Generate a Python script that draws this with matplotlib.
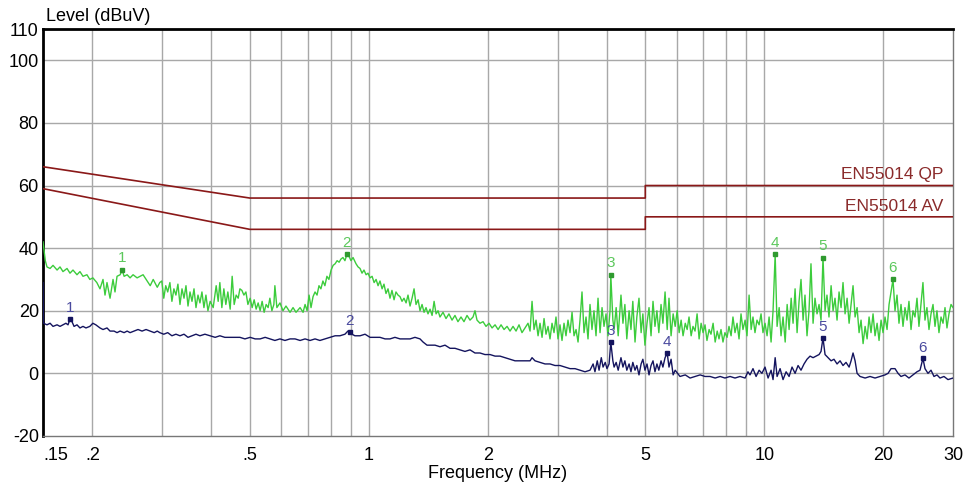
import matplotlib
matplotlib.use("Agg")
import matplotlib.pyplot as plt
import numpy as np

plt.rcParams['font.family'] = ['Liberation Sans', 'DejaVu Sans']
plt.rcParams['axes.unicode_minus'] = False

# limit lines (MHz, dBuV)
qp_limit_freq = [0.15, 0.5, 0.5, 5.0, 5.0, 30.0]
qp_limit_level = [66, 56, 56, 56, 60, 60]
av_limit_freq = [0.15, 0.5, 0.5, 5.0, 5.0, 30.0]
av_limit_level = [59, 46, 46, 46, 50, 50]

# quasi-peak trace (MHz, dBuV)
qp_points = [
    (0.150, 42), (0.1520, 36), (0.1535, 34), (0.1563, 33.5), (0.1590, 34.5), (0.1628, 33),
    (0.1656, 34), (0.1685, 32.5), (0.1725, 33.5), (0.1755, 32), (0.1786, 33), (0.1828, 31.5),
    (0.186, 32.5), (0.1893, 31), (0.1937, 31.5), (0.197, 30), (0.2005, 30.5), (0.2052, 29),
    (0.209, 27), (0.2127, 30), (0.2152, 25), (0.2177, 29), (0.2216, 24), (0.2255, 30),
    (0.2281, 26), (0.2308, 31), (0.235, 31.5), (0.2378, 33), (0.2405, 31), (0.2448, 31.5),
    (0.249, 30.5), (0.2534, 31.5), (0.2594, 30.5), (0.264, 31), (0.2686, 31.5), (0.275, 29.5),
    (0.280, 28), (0.2849, 30), (0.2917, 27.5), (0.296, 29), (0.2995, 29.5), (0.303, 24),
    (0.3065, 28), (0.310, 26), (0.314, 29), (0.3177, 23), (0.3214, 27), (0.3252, 25),
    (0.329, 28.5), (0.333, 22), (0.3369, 27), (0.3409, 24), (0.3448, 28), (0.3489, 21.5),
    (0.353, 26), (0.3571, 23), (0.3613, 27), (0.3655, 21), (0.3698, 25), (0.374, 22.5),
    (0.3784, 26), (0.3828, 21), (0.3873, 25), (0.3918, 20), (0.397, 23), (0.404, 21),
    (0.4111, 28), (0.4159, 23), (0.420, 29), (0.4249, 21), (0.4299, 27), (0.4349, 22),
    (0.440, 26), (0.446, 20.5), (0.4512, 31), (0.4565, 22), (0.4618, 25), (0.4673, 24),
    (0.472, 27), (0.4775, 26.5), (0.4831, 25), (0.4888, 26), (0.4945, 22), (0.501, 24),
    (0.5069, 21), (0.5128, 23.5), (0.5188, 20.5), (0.5249, 22.5), (0.531, 20), (0.5372, 23),
    (0.5435, 19.5), (0.5499, 22), (0.5563, 21), (0.562, 24), (0.5686, 20), (0.5752, 22),
    (0.5786, 28), (0.5854, 21), (0.596, 22.5), (0.6065, 20), (0.6172, 21.5), (0.632, 19.5),
    (0.6431, 21), (0.6544, 19.5), (0.670, 21), (0.6818, 19.5), (0.6898, 22), (0.6979, 20),
    (0.706, 25), (0.7141, 21), (0.7225, 24.5), (0.731, 26), (0.7396, 25), (0.748, 28),
    (0.7564, 27), (0.7653, 29.5), (0.7742, 28), (0.7833, 31), (0.7925, 30), (0.8027, 33),
    (0.8121, 34.5), (0.8216, 35), (0.8312, 36), (0.841, 35.5), (0.850, 36.5), (0.860, 37),
    (0.870, 36), (0.880, 38), (0.890, 37.5), (0.9012, 36), (0.912, 37), (0.928, 35),
    (0.939, 34), (0.950, 33.5), (0.961, 32), (0.972, 33), (0.984, 31.5), (0.995, 32),
    (1.007, 30.5), (1.019, 31), (1.031, 29), (1.043, 30), (1.055, 28), (1.067, 29.5),
    (1.080, 27), (1.092, 28.5), (1.105, 25.5), (1.118, 27), (1.131, 24), (1.144, 26.5),
    (1.158, 23.5), (1.171, 26), (1.185, 25), (1.199, 24.5), (1.213, 23), (1.227, 24),
    (1.242, 22.5), (1.256, 25), (1.271, 21.5), (1.286, 24), (1.301, 27), (1.316, 22),
    (1.332, 23.5), (1.347, 20), (1.363, 22), (1.379, 19.5), (1.395, 21), (1.411, 19),
    (1.428, 20.5), (1.445, 18.5), (1.462, 23), (1.479, 19), (1.496, 20), (1.513, 18),
    (1.540, 19.5), (1.567, 17.5), (1.594, 19), (1.623, 17), (1.651, 18.5), (1.680, 16.5),
    (1.710, 18), (1.740, 16.5), (1.771, 18.5), (1.802, 17), (1.834, 18), (1.855, 20),
    (1.877, 17), (1.910, 16), (1.944, 16.5), (1.978, 15), (2.013, 16), (2.049, 14.5),
    (2.085, 15.5), (2.122, 14), (2.159, 15.5), (2.197, 14), (2.236, 15), (2.275, 13.5),
    (2.315, 15), (2.356, 13.5), (2.397, 15.5), (2.439, 13), (2.482, 14.5), (2.526, 16),
    (2.556, 13.5), (2.586, 23), (2.616, 14), (2.647, 17), (2.678, 12), (2.709, 16),
    (2.741, 11.5), (2.773, 17.5), (2.805, 12.5), (2.838, 15), (2.871, 11), (2.905, 16),
    (2.939, 13), (2.973, 18), (3.008, 11), (3.043, 15.5), (3.079, 10.5), (3.115, 16),
    (3.151, 12), (3.188, 17), (3.226, 13), (3.264, 19.5), (3.302, 12), (3.341, 14),
    (3.380, 10), (3.419, 17), (3.459, 26), (3.500, 13), (3.541, 18), (3.582, 11),
    (3.624, 22), (3.666, 14), (3.709, 20), (3.753, 12), (3.797, 24), (3.842, 13),
    (3.887, 21), (3.932, 15), (3.978, 19), (4.025, 12), (4.072, 20), (4.09, 31.5),
    (4.14, 17), (4.17, 14), (4.22, 21), (4.27, 12), (4.34, 25), (4.39, 16),
    (4.44, 22), (4.49, 11), (4.55, 20), (4.60, 14), (4.65, 23), (4.71, 10),
    (4.76, 18), (4.82, 24), (4.88, 13), (4.93, 19), (4.99, 9), (5.05, 16),
    (5.11, 21), (5.17, 12), (5.23, 23), (5.29, 15), (5.35, 20), (5.41, 13),
    (5.48, 22), (5.54, 16), (5.61, 26), (5.68, 14), (5.74, 24), (5.81, 12),
    (5.88, 19), (5.95, 15), (6.02, 20), (6.09, 13), (6.16, 17), (6.23, 12),
    (6.31, 16), (6.38, 14), (6.45, 18), (6.53, 12), (6.60, 15), (6.68, 13.5),
    (6.76, 19), (6.84, 11), (6.92, 16), (7.00, 13), (7.08, 15.5), (7.16, 10.5),
    (7.25, 14), (7.33, 12.5), (7.42, 16), (7.51, 10), (7.60, 13.5), (7.68, 11),
    (7.77, 14), (7.86, 10), (7.95, 13), (8.05, 11.5), (8.14, 15), (8.24, 12),
    (8.33, 18), (8.43, 13), (8.53, 16), (8.63, 11), (8.73, 19), (8.83, 14),
    (8.94, 17), (9.04, 12), (9.15, 25), (9.26, 14), (9.36, 18), (9.47, 13),
    (9.58, 17), (9.70, 15.5), (9.81, 19), (9.92, 13), (10.04, 16), (10.16, 12),
    (10.28, 18), (10.40, 10), (10.52, 20), (10.65, 38), (10.77, 15), (10.90, 21),
    (11.02, 12), (11.15, 18), (11.29, 10), (11.42, 22), (11.55, 14), (11.69, 24),
    (11.82, 16), (11.96, 27), (12.10, 13), (12.24, 23), (12.38, 30), (12.53, 17),
    (12.67, 25), (12.82, 12), (12.97, 20), (13.12, 35), (13.28, 16), (13.43, 24),
    (13.59, 19), (13.75, 22), (13.91, 17), (14.07, 37), (14.24, 20), (14.40, 25),
    (14.57, 18), (14.75, 28), (14.92, 20), (15.09, 24), (15.27, 17), (15.45, 26),
    (15.63, 21), (15.81, 29), (16.00, 19), (16.19, 24), (16.38, 16), (16.57, 22),
    (16.76, 28), (16.96, 18), (17.16, 21), (17.36, 13), (17.56, 17), (17.77, 9.5),
    (17.98, 15), (18.19, 11), (18.40, 18), (18.61, 13), (18.83, 19), (19.05, 12),
    (19.28, 16), (19.50, 10.5), (19.73, 17), (19.96, 13), (20.19, 18), (20.43, 14),
    (20.67, 22), (20.91, 26), (21.15, 30), (21.40, 20), (21.65, 25), (21.90, 16),
    (22.16, 22), (22.42, 15), (22.68, 21), (22.95, 17), (23.21, 23), (23.49, 14),
    (23.76, 20), (24.04, 18), (24.32, 24), (24.60, 15), (24.89, 22), (25.18, 29),
    (25.48, 17), (25.77, 21), (26.08, 14), (26.39, 19), (26.70, 22), (27.01, 15),
    (27.32, 20), (27.64, 13), (27.97, 18), (28.30, 16), (28.63, 21), (28.96, 14.5),
    (29.30, 19), (29.65, 22), (30.0, 21),
]

# average trace (MHz, dBuV)
av_points = [
    (0.150, 29), (0.1504, 16), (0.1535, 15.5), (0.1563, 16), (0.159, 15), (0.1628, 15.5),
    (0.1656, 15), (0.1685, 15.5), (0.1714, 16), (0.1735, 15.5), (0.1755, 17.3), (0.1776, 16.5),
    (0.1797, 15), (0.1828, 15.5), (0.186, 14.5), (0.1893, 15), (0.1926, 14.5), (0.197, 15),
    (0.2005, 16), (0.204, 15.5), (0.209, 14.5), (0.2127, 14), (0.2177, 14.5), (0.2216, 13.5),
    (0.2268, 13.5), (0.2308, 13), (0.235, 13.5), (0.2405, 13), (0.2448, 13.5), (0.249, 13),
    (0.2549, 13.5), (0.2608, 14), (0.267, 13.5), (0.2733, 14), (0.280, 13.5), (0.2866, 13),
    (0.2917, 13.5), (0.296, 13), (0.303, 12.5), (0.310, 13), (0.3177, 12), (0.3252, 12.5),
    (0.333, 12), (0.3409, 12.5), (0.3489, 11.5), (0.3571, 12), (0.3655, 12.5), (0.374, 12),
    (0.385, 12.5), (0.397, 12), (0.4087, 11.5), (0.420, 12), (0.4324, 11.5), (0.446, 11.5),
    (0.459, 11.5), (0.472, 11.5), (0.486, 11), (0.501, 11.5), (0.5158, 11), (0.531, 11),
    (0.5467, 11.5), (0.562, 11), (0.5786, 10.5), (0.596, 11), (0.6136, 10.5), (0.632, 11),
    (0.6507, 11), (0.670, 10.5), (0.6898, 11), (0.710, 10.5), (0.731, 11), (0.752, 10.5),
    (0.7742, 11), (0.798, 11.5), (0.8216, 12), (0.845, 12), (0.870, 12.5), (0.885, 13.5),
    (0.896, 13.3), (0.9065, 12.5), (0.922, 12), (0.950, 12), (0.978, 12.5), (1.007, 11.5),
    (1.037, 11.5), (1.067, 11.5), (1.099, 11), (1.131, 11), (1.164, 11.5), (1.199, 11),
    (1.234, 11), (1.271, 11), (1.308, 11.5), (1.347, 11), (1.371, 10), (1.403, 9),
    (1.428, 9), (1.470, 9), (1.513, 8.5), (1.558, 9), (1.604, 8), (1.651, 8),
    (1.700, 7.5), (1.750, 7), (1.802, 7.5), (1.855, 6.5), (1.910, 6.5), (1.966, 6),
    (2.025, 6), (2.085, 5.5), (2.146, 5.5), (2.209, 5), (2.275, 4.5), (2.342, 4),
    (2.411, 4), (2.482, 4), (2.556, 4), (2.586, 5), (2.631, 4), (2.709, 3.5),
    (2.789, 3), (2.871, 3), (2.956, 2.5), (3.043, 2.5), (3.133, 2), (3.226, 1.5),
    (3.321, 1.5), (3.419, 1), (3.52, 0.5), (3.624, 1), (3.69, 3), (3.73, 0.5),
    (3.78, 4), (3.82, 1), (3.87, 5), (3.91, 2), (3.96, 3.5), (4.00, 1.5),
    (4.05, 3), (4.09, 10), (4.14, 4), (4.17, 2), (4.22, 3.5), (4.27, 1),
    (4.34, 5), (4.39, 2), (4.44, 4), (4.49, 1), (4.55, 3), (4.60, 0.5),
    (4.65, 3.5), (4.71, 1), (4.76, 2.5), (4.82, -0.5), (4.88, 3), (4.93, 4.5),
    (4.99, 1), (5.05, 3), (5.11, -0.5), (5.17, 2.5), (5.23, 4), (5.29, 0.5),
    (5.35, 3), (5.41, 1), (5.48, 4), (5.54, 2), (5.61, 5), (5.68, 6.5),
    (5.74, 2), (5.81, 4.5), (5.88, -0.5), (5.95, 1), (6.12, -1), (6.31, -0.5),
    (6.49, -1.5), (6.68, -1), (6.88, -0.5), (7.08, -1), (7.29, -1), (7.51, -1.5),
    (7.73, -1), (7.95, -1.5), (8.19, -1), (8.43, -1.5), (8.68, -1), (8.94, -1.5),
    (9.09, 0.5), (9.20, -0.5), (9.36, 1.5), (9.53, -1), (9.70, 1), (9.86, 0),
    (10.04, 2), (10.22, -1.5), (10.40, 1), (10.52, -2), (10.65, 5), (10.77, -1),
    (10.96, 1.5), (11.15, -2), (11.35, 0.5), (11.55, -1), (11.75, 2), (11.96, 0),
    (12.17, 2.5), (12.38, 1), (12.6, 3), (12.82, 4.5), (13.05, 5.5), (13.28, 5),
    (13.51, 5.5), (13.75, 6), (13.91, 7), (14.07, 11.3), (14.24, 6), (14.49, 5),
    (14.75, 4), (15.0, 4.5), (15.27, 3), (15.54, 4), (15.81, 2.5), (16.09, 3.5),
    (16.38, 2), (16.57, 4), (16.76, 6.5), (16.96, 4), (17.16, 0), (17.46, -1),
    (17.98, -1.5), (18.50, -1), (19.05, -1.5), (19.61, -1), (20.19, -0.5), (20.55, 0),
    (20.91, 1.5), (21.40, 1.5), (21.78, 0), (22.16, -1), (22.68, -0.5), (23.21, -1.5),
    (23.76, -0.5), (24.32, 0.5), (24.75, 1), (25.18, 4.8), (25.48, 1.5), (25.93, 0),
    (26.39, 1), (26.85, -1), (27.32, -0.5), (27.81, -1.5), (28.46, -1), (29.13, -2),
    (30.0, -1.5),
]

# numbered markers
qp_marker_freq = [0.2378, 0.880, 4.09, 10.65, 14.07, 21.15]
qp_marker_level = [33, 38, 31.5, 38, 37, 30]
av_marker_freq = [0.1755, 0.896, 4.09, 5.68, 14.07, 25.18]
av_marker_level = [17.3, 13.3, 10, 6.5, 11.3, 4.8]
marker_names = ['1', '2', '3', '4', '5', '6']

x_ticks = [0.15, 0.2, 0.5, 1, 2, 5, 10, 20, 30]
x_tick_labels = ['.15', '.2', '.5', '1', '2', '5', '10', '20', '30']
x_grid = [0.2, 0.3, 0.4, 0.5, 0.6, 0.7, 0.8, 0.9, 1, 2, 3, 4, 5, 6, 7, 8, 9, 10, 20]
y_ticks = [-20, 0, 20, 40, 60, 80, 100, 110]


def main():
    qp_freq, qp_level = np.array(qp_points).T
    av_freq, av_level = np.array(av_points).T

    fig = plt.figure(figsize=(9.71, 4.86), dpi=100)
    ax = fig.add_axes([0.0443, 0.103, 0.9372, 0.8373])
    ax.set_xscale('log')
    ax.set_xlim(0.15, 30)
    ax.set_ylim(-20, 110)

    grid_col = '#a8a8a8'
    for g in x_grid:
        ax.axvline(g, color=grid_col, lw=1.0, zorder=1)
    for g in [0, 20, 40, 60, 80, 100]:
        ax.axhline(g, color=grid_col, lw=1.0, zorder=1)

    lim_col = '#8a1818'
    ax.plot(qp_limit_freq, qp_limit_level, color=lim_col, lw=1.2, zorder=3)
    ax.plot(av_limit_freq, av_limit_level, color=lim_col, lw=1.2, zorder=3)
    ax.text(28.3, 61.0, 'EN55014 QP', color='#8a2a2a', fontsize=12.5, ha='right', va='bottom')
    ax.text(28.3, 51.0, 'EN55014 AV', color='#8a2a2a', fontsize=12.5, ha='right', va='bottom')

    green = '#3ccc3c'
    navy = '#14145e'
    ax.plot(qp_freq, qp_level, color=green, lw=1.0, zorder=4)
    ax.plot(av_freq, av_level, color=navy, lw=1.0, zorder=5)

    ax.plot(qp_marker_freq, qp_marker_level, 's', color='#2f9a2f', ms=3, zorder=6)
    ax.plot(av_marker_freq, av_marker_level, 's', color=navy, ms=3, zorder=6)
    for f, v, n in zip(qp_marker_freq, qp_marker_level, marker_names):
        ax.text(f, v + 1.5, n, color='#5cc85c', fontsize=11, ha='center', va='bottom', zorder=7)
    for f, v, n in zip(av_marker_freq, av_marker_level, marker_names):
        ax.text(f, v + 1.2, n, color='#4a4a9e', fontsize=11, ha='center', va='bottom', zorder=7)

    ax.set_xticks(x_ticks)
    ax.set_xticklabels(x_tick_labels)
    ax.xaxis.set_minor_locator(plt.NullLocator())
    ax.set_yticks(y_ticks)
    ax.tick_params(length=0, labelsize=13, pad=3)
    ax.tick_params(axis='x', pad=8)
    ax.get_xticklabels()[0].set_horizontalalignment('left')

    for s in ['left', 'top']:
        ax.spines[s].set_linewidth(2.0)
        ax.spines[s].set_color('black')
    for s in ['right', 'bottom']:
        ax.spines[s].set_linewidth(1.0)
        ax.spines[s].set_color('#777777')

    ax.set_xlabel('Frequency (MHz)', fontsize=13, labelpad=1)
    fig.text(0.047, 0.948, 'Level (dBuV)', fontsize=13, ha='left', va='bottom')

    fig.savefig('out.png', dpi=100)


if __name__ == "__main__":
    main()
